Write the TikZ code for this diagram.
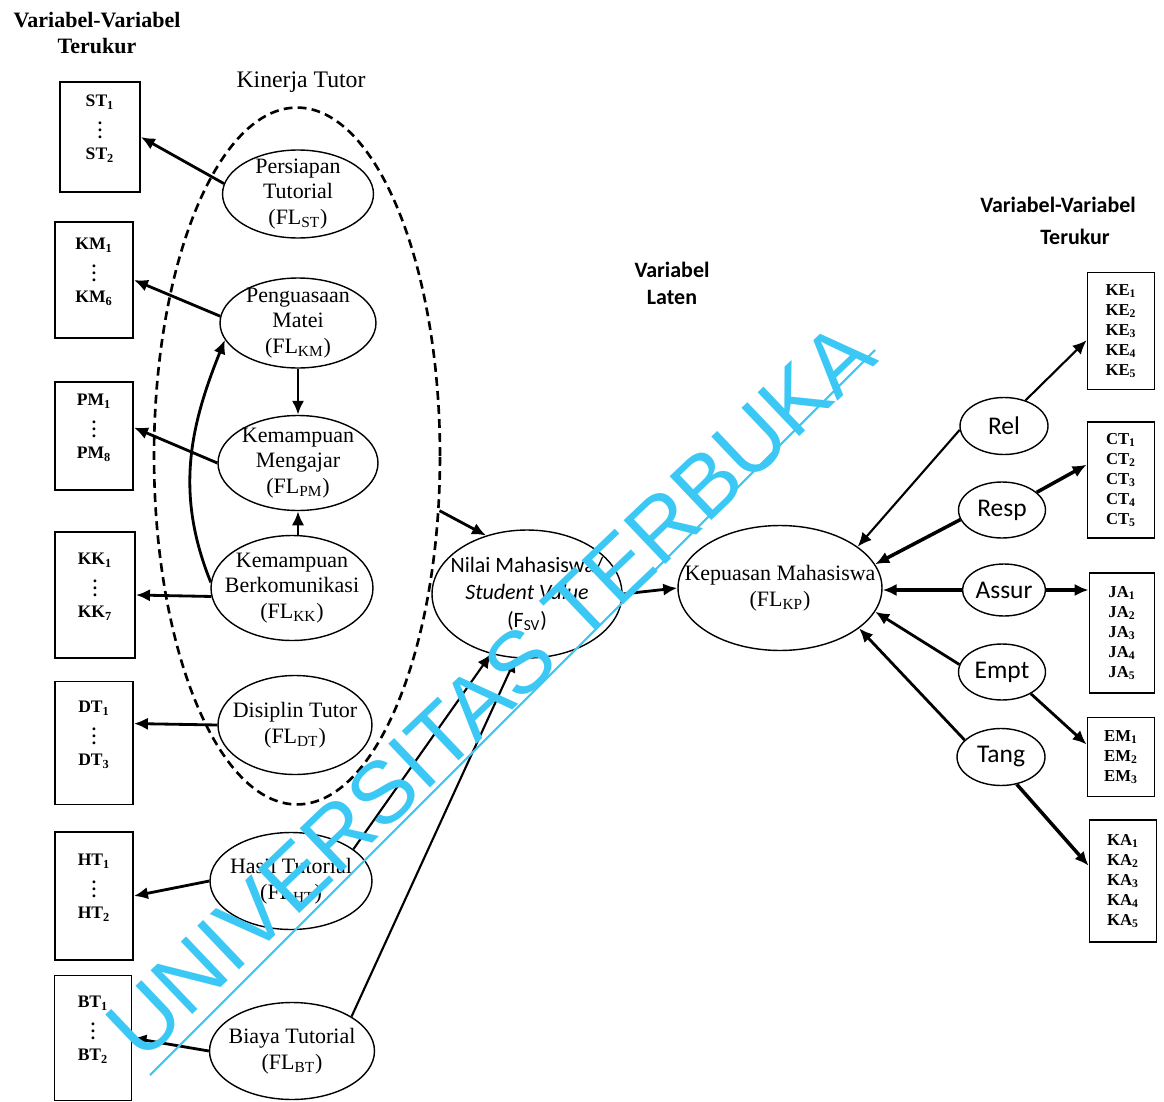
\documentclass[tikz,border=0pt]{standalone}
\usepackage{fontspec}
\setmainfont{Liberation Serif}
\newfontfamily\calibri{Carlito}
\newfontfamily\arial{Liberation Sans}
\usetikzlibrary{shapes.geometric,arrows.meta}
\definecolor{utcyan}{RGB}{60,200,245}

\begin{document}
\begin{tikzpicture}[x=0.02cm,y=-0.02cm,
  latent/.style={ellipse,draw,line width=0.8pt,inner sep=0pt},
  fltext/.style={align=center,font=\fontsize{12.5}{14.5}\selectfont},
  svtext/.style={align=center,font=\calibri\fontsize{12.5}{15.5}\selectfont},
  dim/.style={ellipse,draw,line width=0.8pt,inner sep=0pt,minimum width=1.74cm,minimum height=1.12cm,font=\calibri\fontsize{14.5}{16}\selectfont},
  indbox/.style={draw,line width=1pt,align=center,inner sep=0pt,minimum width=1.56cm,text depth=11pt,font=\bfseries\fontsize{10}{12}\selectfont},
  rbox/.style={draw,line width=1pt,align=center,inner sep=0pt,minimum width=1.34cm,font=\bfseries\fontsize{9.5}{11.3}\selectfont},
  load/.style={-{Latex[length=8pt,width=7pt]},line width=1.6pt},
  head/.style={font=\bfseries\fontsize{12.5}{14.7}\selectfont},
  headsans/.style={font=\calibri\bfseries\fontsize{12.5}{15.3}\selectfont}
]
\useasboundingbox (0,0) rectangle (1164,1102);

% judul
\path (97,33) node[head,align=center] (judulkiri) {Variabel-Variabel\\Terukur}
  (301,82) node[font=\fontsize{13.5}{16}\selectfont] (judulkinerja) {Kinerja Tutor}
  (672,283) node[headsans,align=center] (judullaten) {Variabel\\Laten}
  (1058,205) node[headsans] (judulkanan) {Variabel-Variabel}
  (1075,237) node[headsans] (judulkanan2) {Terukur};

% kinerja tutor
\path (297,456) node[ellipse,draw,line width=1.5pt,dash pattern=on 5pt off 3pt,inner sep=0pt,minimum width=5.72cm,minimum height=13.94cm] (kinerja) {};

% variabel laten kiri
\path (298,194) node[latent,minimum width=3.02cm,minimum height=1.76cm,label={[fltext]center:Persiapan\\Tutorial\\(FL\textsubscript{ST})}] (ST) {}
  (298,323) node[latent,minimum width=3.12cm,minimum height=1.8cm,label={[fltext]center:Penguasaan\\Matei\\(FL\textsubscript{KM})}] (KM) {}
  (298,463) node[latent,minimum width=3.2cm,minimum height=1.9cm,label={[fltext]center:Kemampuan\\Mengajar\\(FL\textsubscript{PM})}] (PM) {}
  (292,588) node[latent,minimum width=3.24cm,minimum height=2.1cm,label={[fltext]center:Kemampuan\\Berkomunikasi\\(FL\textsubscript{KK})}] (KK) {}
  (295,725) node[latent,minimum width=3.08cm,minimum height=1.98cm,label={[fltext]center:Disiplin Tutor\\(FL\textsubscript{DT})}] (DT) {}
  (291,881) node[latent,minimum width=3.24cm,minimum height=1.94cm,label={[fltext]center:Hasil Tutorial\\(FL\textsubscript{HT})}] (HT) {}
  (292,1051) node[latent,minimum width=3.3cm,minimum height=1.94cm,label={[fltext]center:Biaya Tutorial\\(FL\textsubscript{BT})}] (BT) {};

% indikator kiri
\path (100,137) node[indbox,minimum width=1.6cm,minimum height=2.2cm] (stbox) {ST\textsubscript{1}\\$\vdots$\\ST\textsubscript{2}}
  (94,280) node[indbox,minimum height=2.32cm] (kmbox) {KM\textsubscript{1}\\$\vdots$\\KM\textsubscript{6}}
  (94,436) node[indbox,minimum height=2.16cm] (pmbox) {PM\textsubscript{1}\\$\vdots$\\PM\textsubscript{8}}
  (95,595) node[indbox,minimum width=1.6cm,minimum height=2.52cm] (kkbox) {KK\textsubscript{1}\\$\vdots$\\KK\textsubscript{7}}
  (94,743) node[indbox,minimum height=2.46cm] (dtbox) {DT\textsubscript{1}\\$\vdots$\\DT\textsubscript{3}}
  (94,896) node[indbox,minimum height=2.56cm] (htbox) {HT\textsubscript{1}\\$\vdots$\\HT\textsubscript{2}}
  (93,1038) node[indbox,minimum width=1.54cm,minimum height=2.5cm] (btbox) {BT\textsubscript{1}\\$\vdots$\\BT\textsubscript{2}};

% variabel laten tengah
\path (527,594) node[latent,minimum width=3.8cm,minimum height=2.56cm,label={[svtext]center:Nilai Mahasiswa/\\\textit{Student Value}\\(F\textsubscript{SV})}] (Nilai) {}
  (780,588) node[latent,minimum width=4.08cm,minimum height=2.5cm,label={[fltext]center:Kepuasan Mahasiswa\\(FL\textsubscript{KP})}] (KP) {};

% dimensi kepuasan
\path (1004,426) node[dim,minimum width=1.76cm,minimum height=1.14cm] (Rel) {Rel}
  (1002,510) node[dim] (Resp) {Resp}
  (1004,590) node[dim,minimum width=1.66cm,minimum height=1.04cm] (Assur) {Assur}
  (1002,672) node[dim] (Empt) {Empt}
  (1001,757) node[dim,minimum width=1.76cm,minimum height=1.14cm] (Tang) {Tang};

% indikator kanan
\path (1121,331) node[rbox,minimum height=2.34cm] (kebox) {KE\textsubscript{1}\\KE\textsubscript{2}\\KE\textsubscript{3}\\KE\textsubscript{4}\\KE\textsubscript{5}}
  (1121,480) node[rbox,minimum height=2.32cm] (ctbox) {CT\textsubscript{1}\\CT\textsubscript{2}\\CT\textsubscript{3}\\CT\textsubscript{4}\\CT\textsubscript{5}}
  (1122,633) node[rbox,minimum width=1.3cm,minimum height=2.4cm] (jabox) {JA\textsubscript{1}\\JA\textsubscript{2}\\JA\textsubscript{3}\\JA\textsubscript{4}\\JA\textsubscript{5}}
  (1121,757) node[rbox,minimum height=1.58cm] (embox) {EM\textsubscript{1}\\EM\textsubscript{2}\\EM\textsubscript{3}}
  (1123,881) node[rbox,minimum height=2.44cm] (kabox) {KA\textsubscript{1}\\KA\textsubscript{2}\\KA\textsubscript{3}\\KA\textsubscript{4}\\KA\textsubscript{5}};

% panah kiri
\draw[load] (ST.172) -- (stbox.east);
\draw[load] (KM.175) -- (kmbox.east);
\draw[load] (PM.west) -- (pmbox.12);
\draw[load] (KK.186) -- (kkbox.east);
\draw[load] (DT.west) -- (dtbox.26);
\draw[load] (HT.west) -- (htbox.east);
\draw[load] (BT.west) -- (btbox.east);
\draw[load] (KM.south) -- (PM.north);
\draw[load] (KK.north -| PM.south) -- (PM.south);
\draw[load,{Latex[length=8pt,width=7pt]}-] (KM.193) to[out=248,in=112] (KK.176);

% panah ke nilai mahasiswa
\draw[load] (kinerja.339) -- (Nilai.125);
\draw[load,line width=1.2pt] (HT.27) -- (Nilai.239);
\draw[load,line width=1.2pt] (BT.30) -- (Nilai.260);
\draw[load] (Nilai.east) -- (KP.west);

% panah kanan
\draw[load,line width=1.2pt] (Rel.185) -- (KP.28);
\draw[load,line width=2pt] (Resp.193) -- (KP.14);
\draw[load,line width=2pt] (Assur.west) -- (Assur.west -| KP.east);
\draw[load] (Empt.170) -- (KP.346);
\draw[load] (Tang.155) -- (KP.333);
\draw[load,line width=1.2pt] (Rel.50) -- (kebox.195);
\draw[load,line width=2pt] (Resp.27) -- (ctbox.156);
\draw[load,line width=2pt] (Assur.east) -- (Assur.east -| jabox.west);
\draw[load] (Empt.323) -- (embox.160);
\draw[load,line width=2pt] (Tang.300) -- (kabox.156);

% watermark
\node[rotate=43.6,text=utcyan,font=\arial\fontsize{50}{50}\selectfont] (wm) at (490,690) {UNIVERSITAS TERBUKA};
\coordinate (wmA) at (150,1075);
\coordinate (wmB) at (875,350);
\draw[utcyan,line width=1.2pt] (wmA) -- (wmB);
\end{tikzpicture}
\end{document}
